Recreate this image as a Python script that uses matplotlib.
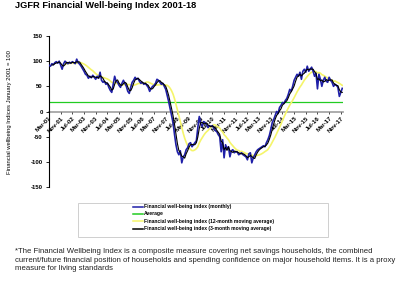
import matplotlib
matplotlib.use("Agg")
import matplotlib.pyplot as plt
import numpy as np
import pandas as pd
from matplotlib.lines import Line2D
from matplotlib.patches import Rectangle

plt.rcParams['font.family'] = ['Liberation Sans', 'DejaVu Sans']

# Monthly index values, Mar-01 onwards
monthly = [
    92, 90, 95, 93, 97, 99, 96, 100, 92, 84,
    95, 100, 97, 95, 98, 96, 99, 97, 95, 104,
    97, 94, 90, 85, 80, 74, 72, 66, 70, 67,
    72, 68, 64, 70, 66, 78, 62, 58, 60, 54,
    56, 48, 42, 38, 54, 70, 60, 58, 52, 48,
    56, 62, 56, 50, 40, 36, 48, 58, 62, 68,
    64, 66, 60, 56, 58, 54, 56, 52, 48, 40,
    46, 50, 52, 56, 64, 62, 58, 54, 56, 50,
    44, 32, 20, 6, -8, -22, -45, -66, -80, -86,
    -78, -102, -90, -86, -76, -72, -64, -62, -70, -66,
    -62, -58, -32, -10, -24, -30, -20, -22, -26, -32,
    -28, -30, -28, -34, -38, -40, -46, -50, -80, -56,
    -92, -66, -74, -70, -90, -78, -76, -82, -80, -80,
    -86, -84, -82, -86, -88, -90, -96, -84, -82, -102,
    -92, -86, -80, -76, -74, -72, -70, -68, -70, -62,
    -56, -48, -36, -22, -16, -8, 0, -4, 8, 12,
    18, 16, 22, 26, 34, 44, 40, 50, 62, 68,
    74, 70, 78, 64, 80, 84, 78, 90, 80, 84,
    88, 80, 70, 76, 45, 74, 64, 50, 62, 68,
    60, 58, 68, 62, 58, 50, 54, 52, 48, 30,
    38, 46,
]
average_value = 18

tick_labels = ["Mar-01", "Nov-01", "Jul-02", "Mar-03", "Nov-03", "Jul-04", "Mar-05",
               "Nov-05", "Jul-06", "Mar-07", "Nov-07", "Jul-08", "Mar-09", "Nov-09",
               "Jul-10", "Mar-11", "Nov-11", "Jul-12", "Mar-13", "Nov-13", "Jul-14",
               "Mar-15", "Nov-15", "Jul-16", "Mar-17", "Nov-17"]

legend_labels = ["Financial well-being index (monthly)",
                 "Average",
                 "Financial well-being index (12-month moving average)",
                 "Financial well-being index (3-month moving average)"]

title = "JGFR Financial Well-being Index 2001-18"
ylabel = "Financial wellbeing Indices January 2001 = 100"
footnote = ["*The Financial Wellbeing Index is a composite measure covering net savings households, the combined",
            "current/future financial position of households and spending confidence on major household items. It is a proxy",
            "measure for living standards"]

s = pd.Series(monthly, dtype=float)
ma12 = s.rolling(12).mean()
ma3 = s.rolling(3).mean()
x = np.arange(len(monthly))

W, H = 400, 284
fig = plt.figure(figsize=(W / 100, H / 100), dpi=100)
ax_left, ax_right = 49, 343
ax_top, ax_bot = 36, 187
ax = fig.add_axes([ax_left / W, 1 - ax_bot / H, (ax_right - ax_left) / W, (ax_bot - ax_top) / H])

c_blue = "#1f1fa8"
c_yellow = "#f5f56a"
c_green = "#22cc22"
c_gray = "#a6a6a6"

ax.plot(x, [average_value] * len(x), color=c_green, lw=0.9, zorder=2)
ax.plot(x, ma12, color=c_yellow, lw=1.2, zorder=3)
ax.plot(x, s, color=c_blue, lw=1.2, zorder=4)
ax.plot(x, ma3, color="black", lw=0.8, zorder=5)

ax.set_xlim(0, len(monthly) - 0.5)
ax.set_ylim(-150, 150)
ax.set_yticks([-150, -100, -50, 0, 50, 100, 150])
ax.set_yticklabels(["-150", "-100", "-50", "0", "50", "100", "150"], fontsize=4.3, fontweight='bold')
ax.tick_params(axis='y', length=2, width=0.6, pad=2.5)

ax.spines['top'].set_visible(False)
ax.spines['right'].set_visible(False)
ax.spines['left'].set_linewidth(0.8)
ax.spines['bottom'].set_position(('data', 0))
ax.spines['bottom'].set_color(c_gray)
ax.spines['bottom'].set_linewidth(1.3)
ax.spines['bottom'].set_zorder(1)

ax.set_xticks(np.arange(len(tick_labels)) * 8)
ax.set_xticklabels(tick_labels, fontsize=4.4, fontweight='bold', rotation=45,
                   ha='right', va='top', rotation_mode='anchor')
ax.tick_params(axis='x', length=1.5, width=0.5, color='black', pad=1.5)
ax.patch.set_alpha(0)

fig.text(15 / W, 1 - 8 / H, title, fontsize=6.7, fontweight='bold', ha='left', va='baseline')
fig.text(10 / W, 1 - 112 / H, ylabel, fontsize=4.2, rotation=90, ha='center', va='center')

# Legend box
lx0, lx1, ly0, ly1 = 78, 328, 203, 237
fig.patches.append(Rectangle((lx0 / W, 1 - ly1 / H), (lx1 - lx0) / W, (ly1 - ly0) / H,
                             transform=fig.transFigure, facecolor='white',
                             edgecolor='#c8c8c8', lw=0.6))
entry_y = [206.5, 213.5, 221, 228.5]
entry_colors = [c_blue, c_green, c_yellow, "black"]
for yy, col, lab in zip(entry_y, entry_colors, legend_labels):
    fig.lines.append(Line2D([133 / W, 143 / W], [1 - yy / H, 1 - yy / H],
                            transform=fig.transFigure, color=col, lw=1.1))
    fig.text(143.5 / W, 1 - yy / H, lab, fontsize=3.6, fontweight='bold', ha='left', va='center')

for yy, line in zip([251.5, 260, 269], footnote):
    fig.text(15 / W, 1 - yy / H, line, fontsize=5.55, ha='left', va='center', color='#222222')

fig.savefig("out.png", dpi=100)
